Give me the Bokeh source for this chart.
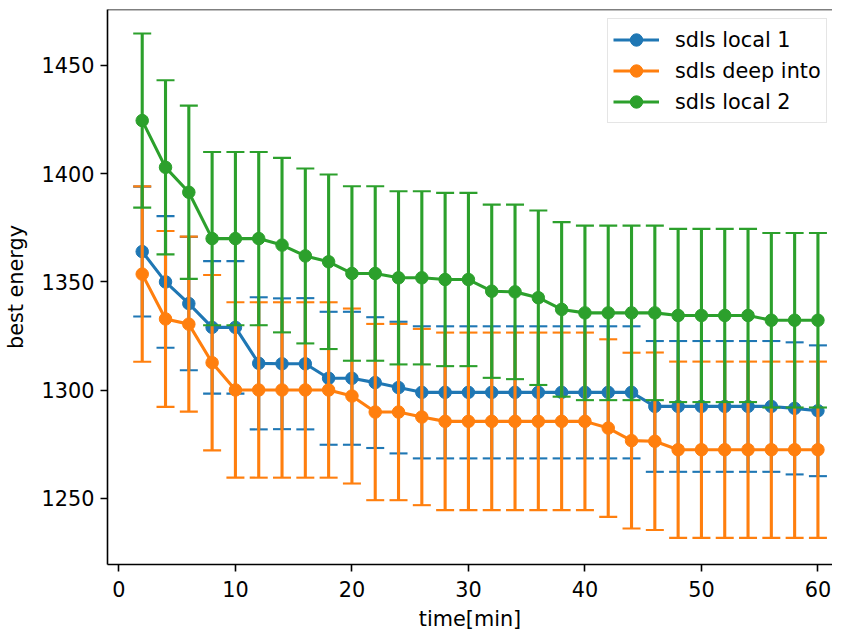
from bokeh.plotting import figure
from bokeh.models import Range1d, FixedTicker, Legend, LegendItem, ColumnDataSource, Span
from bokeh.embed import file_html
from bokeh.resources import INLINE

# ---- data ----
time_min = [2, 4, 6, 8, 10, 12, 14, 16, 18, 20, 22, 24, 26, 28, 30,
            32, 34, 36, 38, 40, 42, 44, 46, 48, 50, 52, 54, 56, 58, 60]

local1_mean = [1364, 1350, 1340, 1329, 1329, 1312.4, 1312.2, 1312.2, 1305.5, 1305.5,
               1303.5, 1301.2, 1299, 1299, 1299, 1299, 1299, 1299, 1299, 1299,
               1299, 1299, 1292.5, 1292.5, 1292.5, 1292.5, 1292.5, 1292.5, 1291.6, 1290.5]
local1_err = [30, 30.4, 30.8, 30.6, 30.6, 30.5, 30.2, 30.3, 30.7, 30.7,
              30.2, 30.4, 30.5, 30.5, 30.5, 30.5, 30.5, 30.5, 30.5, 30.5,
              30.5, 30.5, 30.2, 30.2, 30.2, 30.2, 30.2, 30.2, 30.5, 30.2]

deep_mean = [1353.6, 1332.9, 1330.5, 1312.7, 1300.1, 1300.1, 1300.1, 1300.1, 1300.1, 1297.3,
             1289.9, 1289.9, 1287.6, 1285.6, 1285.6, 1285.6, 1285.6, 1285.6, 1285.6, 1285.6,
             1282.5, 1276.7, 1276.4, 1272.5, 1272.5, 1272.5, 1272.5, 1272.5, 1272.5, 1272.5]
deep_err = [40.5, 40.6, 40.4, 40.5, 40.5, 40.5, 40.5, 40.5, 40.5, 40.4,
            40.7, 40.7, 40.7, 41, 41, 41, 41, 41, 41, 41,
            41, 40.6, 41, 40.7, 40.7, 40.7, 40.7, 40.7, 40.7, 40.7]

local2_mean = [1424.5, 1402.9, 1391.4, 1370, 1370, 1370, 1367, 1362, 1359.3, 1353.9,
               1353.9, 1351.9, 1351.9, 1351.1, 1351.1, 1345.7, 1345.4, 1342.7, 1337.3, 1335.7,
               1335.7, 1335.7, 1335.7, 1334.5, 1334.5, 1334.5, 1334.5, 1332.3, 1332.3, 1332.3]
local2_err = [40.2, 40.2, 40, 40, 40, 40, 40.3, 40.4, 40.3, 40.3,
              40.3, 40, 40, 40, 40, 40, 40.3, 40.3, 40.3, 40.3,
              40.3, 40.3, 40.3, 40, 40, 40, 40, 40.3, 40.3, 40.3]

series_names = ["sdls local 1", "sdls deep into", "sdls local 2"]
series_colors = ["#1f77b4", "#ff7f0e", "#2ca02c"]
x_ticks = [0, 10, 20, 30, 40, 50, 60]
y_ticks = [1250, 1300, 1350, 1400, 1450]

FONT = "DejaVu Sans"
FS = "20.8px"

p = figure(width=829, height=616, output_backend="svg", toolbar_location=None,
           frame_width=725, frame_height=555,
           min_border_left=104, min_border_right=0, min_border_top=9, min_border_bottom=0,
           x_range=Range1d(-0.98, 61.25), y_range=Range1d(1219.5, 1475.8))
p.grid.visible = False
p.outline_line_color = None
p.background_fill_color = "white"
p.border_fill_color = "white"

for ax in (p.xaxis[0], p.yaxis[0]):
    ax.axis_line_width = 1.6
    ax.axis_line_color = "black"
    ax.major_tick_line_color = "black"
    ax.major_tick_line_width = 1.6
    ax.major_tick_out = 7
    ax.major_tick_in = 0
    ax.minor_tick_line_color = None
    ax.major_label_text_font = FONT
    ax.major_label_text_font_size = FS
    ax.major_label_text_color = "black"
    ax.major_label_standoff = 6
    ax.axis_label_text_font = FONT
    ax.axis_label_text_font_size = FS
    ax.axis_label_text_font_style = "normal"
    ax.axis_label_text_color = "black"

p.xaxis.ticker = FixedTicker(ticks=x_ticks)
p.yaxis.ticker = FixedTicker(ticks=y_ticks)
p.xaxis.axis_label = "time[min]"
p.yaxis.axis_label = "best energy"
p.xaxis.major_label_standoff = 9
p.xaxis.axis_label_standoff = 7
p.yaxis.axis_label_standoff = 11

# top spine (the right spine is cropped in the reference)
p.add_layout(Span(location=1475.8, dimension="width", line_color="black", line_width=1.6))

means = [local1_mean, deep_mean, local2_mean]
errs = [local1_err, deep_err, local2_err]
items = []
for name, color, m, e in zip(series_names, series_colors, means, errs):
    lo = [a - b for a, b in zip(m, e)]
    hi = [a + b for a, b in zip(m, e)]
    src = ColumnDataSource(dict(x=time_min, y=m, lo=lo, hi=hi))
    p.segment(x0="x", y0="lo", x1="x", y1="hi", source=src, line_color=color, line_width=3.1)
    p.scatter(x="x", y="hi", source=src, marker="dash", size=18, line_color=color, line_width=2.1)
    p.scatter(x="x", y="lo", source=src, marker="dash", size=18, line_color=color, line_width=2.1)
    ln = p.line(x="x", y="y", source=src, line_color=color, line_width=3.1)
    mk = p.scatter(x="x", y="y", source=src, marker="circle", size=12.5,
                   fill_color=color, line_color=color)
    items.append(LegendItem(label=name, renderers=[ln, mk]))

legend = Legend(items=items, location=(500, 441),
                label_text_font=FONT, label_text_font_size=FS, label_text_color="black",
                glyph_width=46, glyph_height=31, label_height=31, spacing=0,
                label_standoff=16, padding=5, margin=0,
                border_line_color="#cccccc", border_line_width=1.5,
                background_fill_color="white", background_fill_alpha=0.8)
p.add_layout(legend, "center")

open("out.html", "w").write(file_html(p, INLINE))
